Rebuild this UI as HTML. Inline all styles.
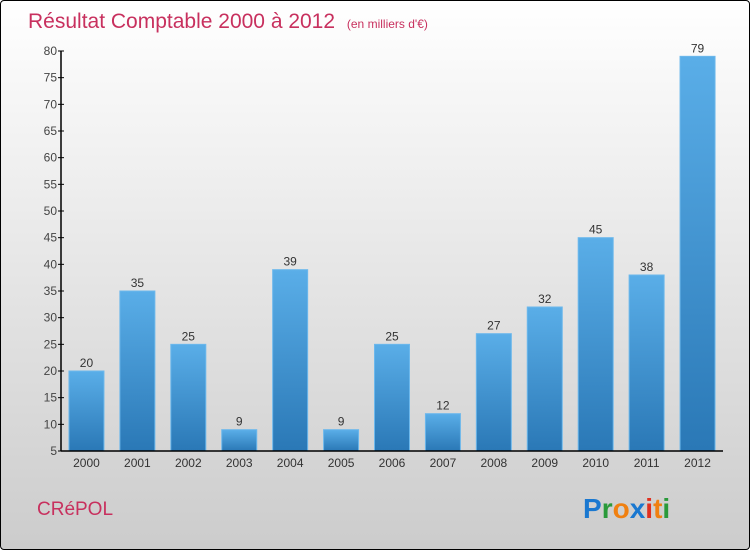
<!DOCTYPE html>
<html><head><meta charset="utf-8"><style>
body{margin:0;width:750px;height:550px;overflow:hidden;font-family:"Liberation Sans",sans-serif}
#c{position:absolute;left:0;top:0;width:748px;height:548px;border:1px solid #000;border-radius:4px;background:linear-gradient(#fff,#ccc)}
</style></head><body>
<div id="c">
<svg width="750" height="550">
<defs><linearGradient id="g" x1="0" y1="0" x2="0" y2="1"><stop offset="0" stop-color="#5aaee8"/><stop offset="1" stop-color="#2a78b6"/></linearGradient></defs>
<text x="27" y="27" font-size="21" fill="#c8305e">Résultat Comptable 2000 à 2012 <tspan font-size="12" dx="6">(en milliers d'€)</tspan></text>
<g id="plot"></g>
<text x="36" y="514" font-size="19" fill="#c8305e">CRéPOL</text>
<text x="582" y="517" font-size="28" font-weight="bold"><tspan fill="#1a78d0">P</tspan><tspan fill="#2a9a3a">r</tspan><tspan fill="#f08010">o</tspan><tspan fill="#1a78d0">x</tspan><tspan fill="#e03020">i</tspan><tspan fill="#f08010">t</tspan><tspan fill="#2a9a3a">i</tspan></text>
</svg></div>
<script>
const categories=["2000","2001","2002","2003","2004","2005","2006","2007","2008","2009","2010","2011","2012"];
const values=[20,35,25,9,39,9,25,12,27,32,45,38,79];
const yTicks=[5,10,15,20,25,30,35,40,45,50,55,60,65,70,75,80];
const NS="http://www.w3.org/2000/svg";
const L=60,R=722,T=50,B=450,ymin=5,ymax=80;
const y=v=>B-(v-ymin)/(ymax-ymin)*(B-T);
const bw=(R-L)/categories.length;
const x=i=>L+(i+0.5)*bw;
const p=document.getElementById('plot');
function mk(t,a,txt){const e=document.createElementNS(NS,t);for(const k in a)e.setAttribute(k,a[k]);if(txt!=null)e.textContent=txt;p.appendChild(e);return e;}
values.forEach((v,i)=>{
 const r=mk('rect',{x:x(i)-17.5,y:y(v),width:35,height:B-y(v),fill:'url(#g)',stroke:'#6cb8ec','stroke-width':1});
 
 
 const t=mk('text',{x:x(i),y:y(v)-4,'text-anchor':'middle','font-size':12,fill:'#333'},v);
 
 
 const c=mk('text',{x:x(i),y:B+16,'text-anchor':'middle','font-size':12,fill:'#333'},categories[i]);
 
 
});
yTicks.forEach(v=>{
 const l=mk('line',{x1:L-3,x2:L+3,y1:y(v),y2:y(v),stroke:'#000'});
 
 
 const t=mk('text',{x:L-4,y:y(v)+4,'text-anchor':'end','font-size':12,fill:'#444'},v);
 
 
});
const ya=mk('line',{x1:L,x2:L,y1:T,y2:B,stroke:'#000','stroke-width':1.5});


const xa=mk('line',{x1:L,x2:R,y1:B,y2:B,stroke:'#000','stroke-width':1.5});


</script>
</body></html>
